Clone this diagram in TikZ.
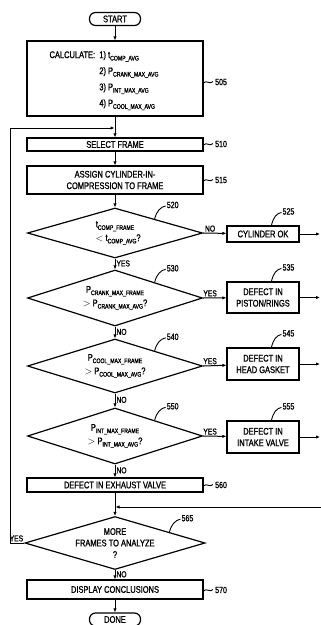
\documentclass[tikz,border=0pt]{standalone}
\usepackage{fontspec}
\setmainfont{Liberation Sans}[FakeStretch=0.78,FakeBold=1.2]
\usetikzlibrary{shapes.geometric,arrows.meta,calc}
\newcommand{\sbs}[1]{\raisebox{-2.4pt}{\fontsize{6.6}{6.6}\selectfont #1}}
\tikzset{
  every node/.style={font=\fontsize{9.6}{11.5}\selectfont},
  stepbox/.style={draw, line width=1.2pt, minimum width=176pt, inner sep=1pt, align=center},
  sidebox/.style={draw, line width=1.2pt, minimum width=72pt, inner sep=1pt, align=center},
  dia/.style={diamond, draw, line width=1.2pt, aspect=3.4, minimum width=175pt, inner sep=0pt, align=center},
  term/.style={draw, line width=1.2pt, rounded corners=6pt, minimum width=51pt, minimum height=13pt, inner sep=1pt},
  arr/.style={-{Latex[length=4pt,width=3.4pt]}, line width=1pt},
  yn/.style={font=\fontsize{8.6}{9}\selectfont, inner sep=1pt},
  refn/.style={font=\fontsize{9}{9}\selectfont, inner sep=0pt, anchor=west},
  lead/.style={line width=0.9pt}
}
\begin{document}
\begin{tikzpicture}[x=1pt,y=-1pt]
\useasboundingbox (0,0) rectangle (321,625);
% nodes
\node[term] (start) at (115,19) {START};
\node[stepbox, minimum height=75pt] (calc) at (115,78.5) {};
\node[inner sep=0pt] (calctext) at (104,79) {\renewcommand{\arraystretch}{1.4}\begin{tabular}{@{}l@{\ \ }l@{}}
CALCULATE: & 1) t\sbs{COMP\_AVG}\\
 & 2) P\sbs{CRANK\_MAX\_AVG}\\
 & 3) P\sbs{INT\_MAX\_AVG}\\
 & 4) P\sbs{COOL\_MAX\_AVG}\end{tabular}};
\node[stepbox, minimum height=13pt] (select) at (115,144.5) {SELECT FRAME};
\node[stepbox, minimum height=28pt] (assign) at (115,180) {ASSIGN CYLINDER-IN-\\COMPRESSION TO FRAME};
\node[dia, minimum height=50pt] (d520) at (115,233) {t\sbs{COMP\_FRAME}\\[2pt]\ \ \ $<$ t\sbs{COMP\_AVG}?};
\node[sidebox, minimum height=16pt] (ok) at (263,234) {CYLINDER OK};
\node[dia, minimum height=56pt] (d530) at (115,298) {P\sbs{CRANK\_MAX\_FRAME}\\[2pt]$>$ P\sbs{CRANK\_MAX\_AVG}?};
\node[sidebox, minimum height=31pt] (b535) at (263,297.5) {DEFECT IN\\PISTON/RINGS};
\node[dia, minimum height=54pt] (d540) at (115,366) {P\sbs{COOL\_MAX\_FRAME}\\[2pt]$>$ P\sbs{COOL\_MAX\_AVG}?};
\node[sidebox, minimum height=32pt] (b545) at (263,364) {DEFECT IN\\HEAD GASKET};
\node[dia, minimum height=56pt] (d550) at (115,436) {P\sbs{INT\_MAX\_FRAME}\\[2pt]$>$ P\sbs{INT\_MAX\_AVG}?};
\node[sidebox, minimum height=32pt] (b555) at (263,437) {DEFECT IN\\INTAKE VALVE};
\node[stepbox, minimum height=14pt] (b560) at (115,485) {DEFECT IN EXHAUST VALVE};
\node[dia, minimum height=50pt] (d565) at (115,543) {MORE\\FRAMES TO ANALYZE\\?};
\node[stepbox, minimum height=19pt] (disp) at (115,589.5) {DISPLAY CONCLUSIONS};
\node[term] (done) at (115,619.5) {DONE};
% free ends
\coordinate (e1) at (320,234);
\coordinate (e2) at (320,297.5);
\coordinate (e3) at (320,364);
\coordinate (e4) at (320,437);
\coordinate (rin) at (322,507);
\coordinate (j1) at (115.5,507);
\coordinate (lp1) at (10,543);
\coordinate (lp2) at (10,128);
\coordinate (lp3) at (114.5,128);
% main flow
\draw[arr] (start) -- (calc);
\draw[arr] (calc) -- (select);
\draw[arr] (select) -- (assign);
\draw[arr] (assign) -- (d520);
\draw[arr] (d520) -- node[yn, anchor=west, pos=0.45] {YES} (d530);
\draw[arr] (d530) -- node[yn, anchor=west, pos=0.45] {NO} (d540);
\draw[arr] (d540) -- node[yn, anchor=west, pos=0.45] {NO} (d550);
\draw[arr] (d550) -- node[yn, anchor=west, pos=0.45] {NO} (b560);
\draw[arr] (b560) -- (d565);
\draw[arr] (d565) -- node[yn, anchor=west, pos=0.45] {NO} (disp);
\draw[arr] (disp) -- (done);
% side branches
\draw[arr] (d520.east) -- node[yn, above, pos=0.3] {NO} (ok);
\draw[arr] (d530.east) -- node[yn, above, pos=0.3] {YES} (b535);
\draw[arr] (d540.east) -- node[yn, above, pos=0.3] {YES} (b545);
\draw[arr] (d550.east) -- node[yn, above, pos=0.3] {YES} (b555);
\draw[arr] (ok) -- (e1);
\draw[arr] (b535) -- (e2);
\draw[arr] (b545) -- (e3);
\draw[arr] (b555) -- (e4);
\draw[arr] (rin) -- (j1);
% loop
\draw[arr] (d565.west) -- node[yn, above, pos=0.55] {YES} (lp1) -- (lp2) -- (lp3);
% reference numerals, box leaders
\foreach \n/\y/\t in {calc/82/505, select/144/510, assign/180/515, b560/485/560, disp/590/570}{
  \draw[lead] (203.5,\y+1) .. controls +(3,-3.5) and +(-3,3.5) .. (213,\y-0.5);
  \node[refn] (r\t) at (215,\y) {\t};
}
% diamond leaders
\foreach \d/\t/\f in {d520/520/0.45, d530/530/0.45, d540/540/0.45, d550/550/0.45, d565/565/0.6}{
  \coordinate (s\t) at ($(\d.north)!\f!(\d.east)$);
  \draw[lead] (s\t) .. controls +(2,-8) and +(-5,1) .. ($(s\t)+(11,-13)$);
  \node[refn] (r\t) at ($(s\t)+(12,-14)$) {\t};
}
% side box leaders
\foreach \b/\t in {ok/525, b535/535, b545/545, b555/555}{
  \coordinate (s\t) at ($(\b.north west)+(45,0)$);
  \draw[lead] (s\t) .. controls +(2,-8) and +(-5,1) .. ($(s\t)+(10,-13)$);
  \node[refn] (r\t) at ($(s\t)+(11,-14)$) {\t};
}
\end{tikzpicture}
\end{document}
